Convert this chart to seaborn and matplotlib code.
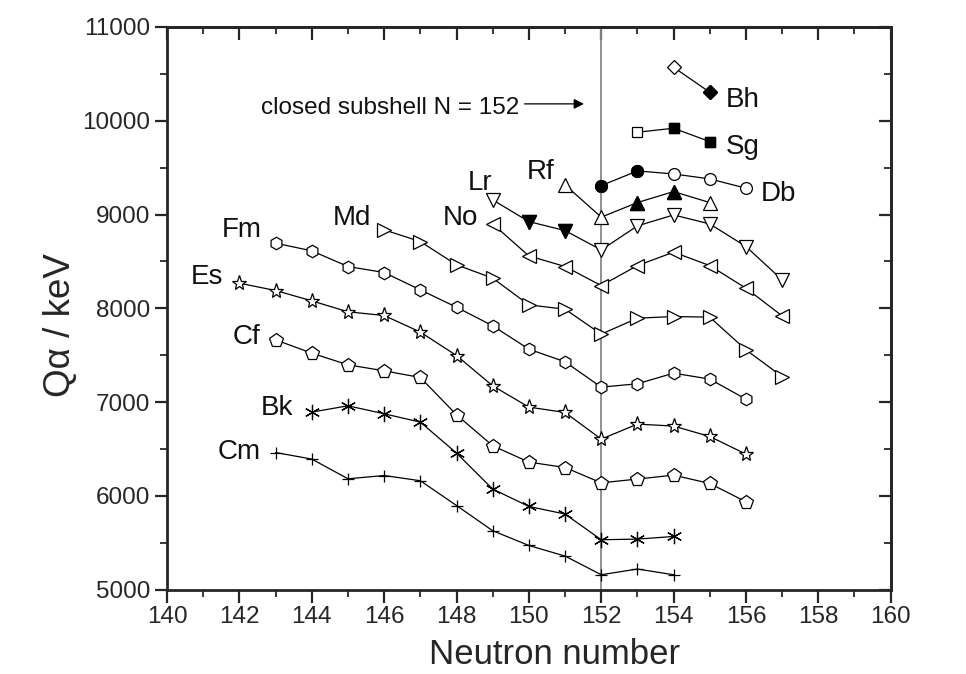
import numpy as np
import pandas as pd
import matplotlib
matplotlib.use("Agg")
import matplotlib.pyplot as plt
import seaborn as sns
from matplotlib.ticker import MultipleLocator

# Q-alpha values (keV), per element
cm_n = [143, 144, 145, 146, 147, 148, 149, 150, 151, 152, 153, 154]
cm_q = [6463, 6393, 6183, 6218, 6162, 5898, 5629, 5472, 5359, 5160, 5221, 5160]

bk_n = [144, 145, 146, 147, 148, 149, 150, 151, 152, 153, 154]
bk_q = [6894, 6961, 6876, 6787, 6457, 6073, 5888, 5807, 5533, 5540, 5568]

cf_n = [143, 144, 145, 146, 147, 148, 149, 150, 151, 152, 153, 154, 155, 156]
cf_q = [7664, 7522, 7398, 7334, 7263, 6865, 6535, 6361, 6303, 6140, 6180, 6222, 6133, 5938]

es_n = [142, 143, 144, 145, 146, 147, 148, 149, 150, 151, 152, 153, 154, 155, 156]
es_q = [8268, 8190, 8080, 7963, 7924, 7747, 7497, 7174, 6947, 6890, 6606, 6766, 6745, 6634, 6446]

fm_n = [143, 144, 145, 146, 147, 148, 149, 150, 151, 152, 153, 154, 155, 156]
fm_q = [8695, 8613, 8446, 8382, 8197, 8012, 7814, 7565, 7430, 7160, 7196, 7309, 7246, 7032]

md_n = [146, 147, 148, 149, 150, 151, 152, 153, 154, 155, 156, 157]
md_q = [8837, 8712, 8464, 8322, 8037, 7991, 7725, 7895, 7913, 7906, 7558, 7273]

no_n = [149, 150, 151, 152, 153, 154, 155, 156, 157]
no_q = [8900, 8559, 8446, 8243, 8456, 8599, 8456, 8215, 7920]

lr_n = [149, 150, 151, 152, 153, 154, 155, 156, 157]
lr_q = [9156, 8925, 8829, 8623, 8879, 8996, 8900, 8659, 8304]
lr_filled = [150, 151]

rf_n = [151, 152, 153, 154, 155]
rf_q = [9316, 8972, 9128, 9245, 9128]
rf_filled = [153, 154]

db_n = [152, 153, 154, 155, 156]
db_q = [9309, 9465, 9433, 9380, 9281]
db_filled = [152, 153]

sg_n = [153, 154, 155]
sg_q = [9878, 9920, 9778]
sg_filled = [154, 155]

bh_n = [154, 155]
bh_q = [10570, 10304]
bh_filled = [155]

elements = ["Cm", "Bk", "Cf", "Es", "Fm", "Md", "No", "Lr", "Rf", "Db", "Sg", "Bh"]
label_x = [142.0, 143.05, 142.2, 141.1, 142.05, 145.1, 148.1, 148.65, 150.33, 156.9, 155.9, 155.9]
label_y = [6470, 6940, 7696, 8336, 8837, 8964, 8964, 9337, 9455, 9220, 9721, 10222]

series = {
    "Cm": (cm_n, cm_q, "+", [], 9),
    "Bk": (bk_n, bk_q, (6, 2, 0), [], 11),
    "Cf": (cf_n, cf_q, "p", [], 10),
    "Es": (es_n, es_q, "*", [], 11),
    "Fm": (fm_n, fm_q, "h", [], 9),
    "Md": (md_n, md_q, ">", [], 10.5),
    "No": (no_n, no_q, "<", [], 10.5),
    "Lr": (lr_n, lr_q, "v", lr_filled, 10.5),
    "Rf": (rf_n, rf_q, "^", rf_filled, 10.5),
    "Db": (db_n, db_q, "o", db_filled, 8.5),
    "Sg": (sg_n, sg_q, "s", sg_filled, 7.5),
    "Bh": (bh_n, bh_q, "D", bh_filled, 7.5),
}

sns.set_theme(style="ticks")
plt.rcParams["font.family"] = ["Liberation Sans", "DejaVu Sans"]

fig = plt.figure(figsize=(9.66, 6.74), dpi=100)
ax = fig.add_axes([0.173, 0.125, 0.749, 0.835])

ax.axvline(152, color="#888888", lw=1.3, zorder=1)

for name in elements:
    n, q, mk, filled, ms = series[name]
    df = pd.DataFrame({"N": n, "Q": q})
    sns.lineplot(data=df, x="N", y="Q", ax=ax, color="black", lw=0.9,
                 marker=mk, markersize=ms, markerfacecolor="white",
                 markeredgecolor="black", markeredgewidth=0.9, zorder=3)
    if filled:
        fdf = df[df["N"].isin(filled)]
        ax.plot(fdf["N"], fdf["Q"], ls="none", marker=mk, markersize=ms,
                markerfacecolor="black", markeredgecolor="black", zorder=4)

for name, lx, ly in zip(elements, label_x, label_y):
    ax.text(lx, ly, name, fontsize=20, ha="center", va="center", color="#111111")

ax.annotate("", xy=(151.6, 10180), xytext=(149.8, 10180),
            arrowprops=dict(arrowstyle="-|>", color="black", lw=0.9,
                            mutation_scale=15))
ax.text(149.72, 10140, "closed subshell N = 152", fontsize=17.5,
        ha="right", va="center", color="#111111")

ax.set_xlim(140, 160)
ax.set_ylim(5000, 11000)
ax.xaxis.set_major_locator(MultipleLocator(2))
ax.xaxis.set_minor_locator(MultipleLocator(1))
ax.yaxis.set_major_locator(MultipleLocator(1000))
ax.yaxis.set_minor_locator(MultipleLocator(500))

ax.tick_params(which="major", direction="out", length=9, width=1.6,
               labelsize=17.5, pad=3)
ax.tick_params(which="minor", direction="out", length=5, width=1.3)

for sp in ax.spines.values():
    sp.set_linewidth(2)
    sp.set_visible(True)

top = ax.secondary_xaxis("top")
top.xaxis.set_major_locator(MultipleLocator(2))
top.xaxis.set_minor_locator(MultipleLocator(1))
top.tick_params(which="major", direction="in", length=9, width=1.6, labeltop=False)
top.tick_params(which="minor", direction="in", length=5, width=1.3)
top.spines["top"].set_linewidth(2)

right = ax.secondary_yaxis("right")
right.yaxis.set_major_locator(MultipleLocator(1000))
right.yaxis.set_minor_locator(MultipleLocator(500))
right.tick_params(which="major", direction="in", length=9, width=1.6, labelright=False)
right.tick_params(which="minor", direction="in", length=5, width=1.3)
right.spines["right"].set_linewidth(2)

ax.set_xlabel("Neutron number", fontsize=25)
ax.set_ylabel("Q\u03b1 / keV", fontsize=26.5)
ax.xaxis.set_label_coords(0.535, -0.085)
ax.yaxis.set_label_coords(-0.123, 0.47)

plt.savefig("out.png", dpi=100)
